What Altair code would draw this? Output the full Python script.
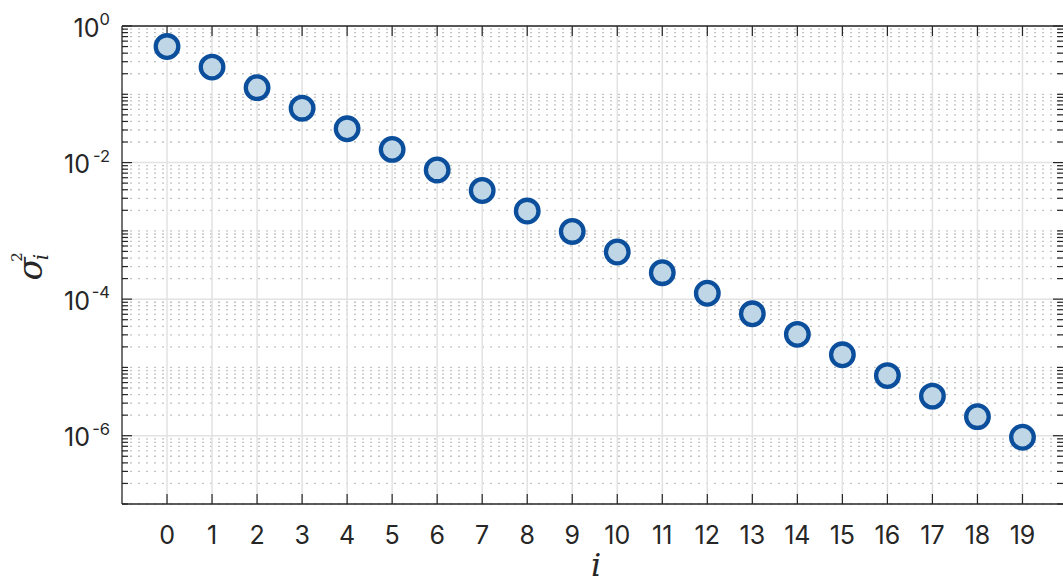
import altair as alt
import pandas as pd

# ---- data ----
idx = list(range(20))
sigma2 = [0.5, 0.25, 0.125, 0.0625, 0.03125, 0.0156, 0.0078, 0.0039, 0.00195, 0.00098,
          0.00049, 0.000244, 0.000122, 6.1e-5, 3.05e-5, 1.53e-5, 7.6e-6, 3.8e-6, 1.9e-6, 9.5e-7]
xticks = list(range(20))
ymajor = [1.0, 1e-2, 1e-4, 1e-6]
yexp = ["0", "-2", "-4", "-6"]
yminor = [m * 10.0 ** k for k in range(-7, 0) for m in range(1, 10)
          if not (m == 1 and k % 2 == 0)]

W, H = 941, 478
DARK = "#262626"
GRID = "#e2e2e2"
MINOR = "#c2c2c2"
SANS = "Inter"

xs = alt.Scale(domain=[-1, 19.9], nice=False, zero=False)
ys = alt.Scale(type="log", domain=[1e-7, 1], nice=False)

df = pd.DataFrame({"i": idx, "s": sigma2})
dmaj = pd.DataFrame({"v": ymajor, "e": yexp})
dmin = pd.DataFrame({"v": yminor})
dx = pd.DataFrame({"x": xticks})

# minor dotted grid
minor_grid = alt.Chart(dmin).mark_rule(color=MINOR, strokeWidth=1.3, strokeDash=[2, 6]).encode(
    y=alt.Y("v:Q", scale=ys, axis=None), x=alt.value(0), x2=alt.value(W))

# major horizontal grid
major_grid = alt.Chart(dmaj).mark_rule(color=GRID, strokeWidth=1.5).encode(
    y=alt.Y("v:Q", scale=ys, axis=None), x=alt.value(0), x2=alt.value(W))

# vertical grid
vgrid = alt.Chart(dx).mark_rule(color=GRID, strokeWidth=1.5).encode(
    x=alt.X("x:Q", scale=xs, axis=None), y=alt.value(0), y2=alt.value(H))

# ticks (inward)
ymin_l = alt.Chart(dmin).mark_rule(color=DARK, strokeWidth=1.2).encode(
    y=alt.Y("v:Q", scale=ys, axis=None), x=alt.value(0), x2=alt.value(6))
ymin_r = alt.Chart(dmin).mark_rule(color=DARK, strokeWidth=1.2).encode(
    y=alt.Y("v:Q", scale=ys, axis=None), x=alt.value(W - 6), x2=alt.value(W))
ymaj_l = alt.Chart(dmaj).mark_rule(color=DARK, strokeWidth=1.2).encode(
    y=alt.Y("v:Q", scale=ys, axis=None), x=alt.value(0), x2=alt.value(10))
ymaj_r = alt.Chart(dmaj).mark_rule(color=DARK, strokeWidth=1.2).encode(
    y=alt.Y("v:Q", scale=ys, axis=None), x=alt.value(W - 10), x2=alt.value(W))
xt_b = alt.Chart(dx).mark_rule(color=DARK, strokeWidth=1.2).encode(
    x=alt.X("x:Q", scale=xs, axis=None), y=alt.value(H - 10), y2=alt.value(H))
xt_t = alt.Chart(dx).mark_rule(color=DARK, strokeWidth=1.2).encode(
    x=alt.X("x:Q", scale=xs, axis=None), y=alt.value(0), y2=alt.value(10))

# x tick labels
xlab = alt.Chart(dx).mark_text(font=SANS, fontSize=25, color=DARK,
                               align="center", baseline="alphabetic").encode(
    x=alt.X("x:Q", scale=xs, axis=None), y=alt.value(H + 40), text=alt.Text("x:Q", format="d"))

# frame: left, bottom, top
frame = pd.DataFrame({"a": [0]})
top_line = alt.Chart(frame).mark_rule(color=DARK, strokeWidth=1.3).encode(
    x=alt.value(0), x2=alt.value(W), y=alt.value(0))
left_line = alt.Chart(frame).mark_rule(color=DARK, strokeWidth=1.3).encode(
    x=alt.value(0), y=alt.value(0), y2=alt.value(H))
bottom_line = alt.Chart(frame).mark_rule(color=DARK, strokeWidth=1.3).encode(
    x=alt.value(0), x2=alt.value(W), y=alt.value(H))

# points
pts = alt.Chart(df).mark_circle(size=510, fill="#bed6e6", stroke="#0b4f9c",
                                strokeWidth=4.3, opacity=1).encode(
    x=alt.X("i:Q", scale=xs, axis=None),
    y=alt.Y("s:Q", scale=ys, axis=None))

# y tick labels 10^k
ybase = alt.Chart(dmaj).transform_calculate(
    bx="-13 - 9.5 * length(datum.e)", t="'10'").mark_text(
    font=SANS, fontSize=25, color=DARK, align="right", baseline="alphabetic", dy=10.5).encode(
    x=alt.X("bx:Q", scale=None), y=alt.Y("v:Q", scale=ys, axis=None), text="t:N")
yexp_t = alt.Chart(dmaj).mark_text(
    font=SANS, fontSize=16.5, color=DARK, align="right", baseline="alphabetic", dy=-1).encode(
    x=alt.value(-12), y=alt.Y("v:Q", scale=ys, axis=None), text="e:N")

# axis titles
ttl = pd.DataFrame({"sig": ["\u03c3"], "sup": ["2"], "sub": ["i"]})
sig = alt.Chart(ttl).mark_text(font="DejaVu Serif", fontStyle="italic", fontSize=34, color=DARK,
                               angle=270, align="center", baseline="alphabetic").encode(
    x=alt.value(-80), y=alt.value(243), text="sig:N")
sup = alt.Chart(ttl).mark_text(font="DejaVu Serif", fontSize=15, color=DARK,
                               angle=270, align="center", baseline="alphabetic").encode(
    x=alt.value(-100), y=alt.value(231), text="sup:N")
sub = alt.Chart(ttl).mark_text(font="DejaVu Serif", fontStyle="italic", fontSize=20, color=DARK,
                               angle=270, align="center", baseline="alphabetic").encode(
    x=alt.value(-74), y=alt.value(231), text="sub:N")
xtitle = alt.Chart(ttl).mark_text(font="DejaVu Serif", fontStyle="italic", fontSize=32, color=DARK,
                                  align="center", baseline="alphabetic").encode(
    x=alt.value(474), y=alt.value(550), text="sub:N")

chart = alt.layer(
    minor_grid, major_grid, vgrid, ymin_l, ymin_r, ymaj_l, ymaj_r, xt_b, xt_t,
    top_line, left_line, bottom_line, pts, xlab, ybase, yexp_t, sig, sup, sub, xtitle
).properties(
    width=W, height=H,
    autosize=alt.AutoSizeParams(type="none"),
    padding={"left": 122, "top": 26, "right": 0, "bottom": 79},
    background="white"
).configure_view(stroke=None)

chart.save("out.html", embed_options={"renderer": "svg", "actions": False})
